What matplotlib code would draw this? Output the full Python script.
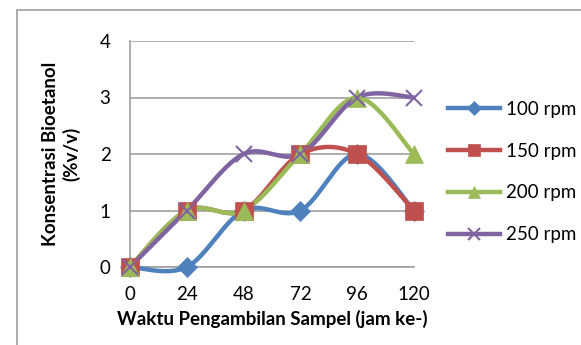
import numpy as np
import matplotlib.pyplot as plt
from matplotlib.lines import Line2D

plt.rcParams['font.family'] = ['Lato', 'DejaVu Sans']

jam = [0, 24, 48, 72, 96, 120]
rpm100 = [0, 0, 1, 1, 2, 1]
rpm150 = [0, 1, 1, 2, 2, 1]
rpm200 = [0, 1, 1, 2, 3, 2]
rpm250 = [0, 1, 2, 2, 3, 3]
labels = ['100 rpm', '150 rpm', '200 rpm', '250 rpm']


def smooth(x, y, n=40):
    # excel style bezier smoothing
    p = np.column_stack([x, y]).astype(float)
    p = np.vstack([p[0], p, p[-1]])
    t = np.linspace(0, 1, n)[:, None]
    out = []
    for i in range(1, len(p) - 2):
        p0, p1, p2, p3 = p[i - 1], p[i], p[i + 1], p[i + 2]
        b1 = p1 + (p2 - p0) / 6
        b2 = p2 - (p3 - p1) / 6
        seg = ((1 - t) ** 3) * p1 + 3 * ((1 - t) ** 2) * t * b1 + 3 * (1 - t) * t ** 2 * b2 + t ** 3 * p2
        out.append(seg)
    out = np.vstack(out)
    return out[:, 0], out[:, 1]


fig = plt.figure(figsize=(5.81, 3.45), dpi=100)
ax = fig.add_axes([130 / 581, 1 - 267 / 345, 284 / 581, 226 / 345])

# outer chart border
fig.add_artist(plt.Rectangle((17 / 581, -0.1), 1.2, 1 - 10 / 345 + 0.1, transform=fig.transFigure,
                             fill=False, edgecolor='#a0a0a0', linewidth=1.2))

series = [rpm100, rpm150, rpm200, rpm250]
colors = ['#4F81BD', '#C0504D', '#9BBB59', '#8064A2']
markers = ['D', 's', '^', 'x']
msizes = [10, 13, 13, 12]

for ys, c, m, ms in zip(series, colors, markers, msizes):
    sx, sy = smooth(jam, ys)
    ax.plot(sx, sy, color=c, linewidth=3.2, solid_capstyle='round', clip_on=False, zorder=3)
    ax.plot(jam, ys, linestyle='none', marker=m, color=c, markersize=ms,
            markeredgewidth=1.5 if m == 'x' else 0.5, clip_on=False, zorder=4)

ax.set_xlim(0, 120)
ax.set_ylim(0, 4)
ax.set_xticks(jam)
ax.set_yticks([0, 1, 2, 3, 4])
ax.tick_params(length=0, labelsize=13.5, pad=14)
ax.tick_params(axis='y', pad=14)
ax.grid(axis='y', color='#a0a0a0', linewidth=1.2)
ax.set_axisbelow(True)
for s in ['top', 'right']:
    ax.spines[s].set_visible(False)
for s in ['left', 'bottom']:
    ax.spines[s].set_color('#a0a0a0')
    ax.spines[s].set_linewidth(1.2)

ax.set_xlabel('Waktu Pengambilan Sampel (jam ke-)', fontsize=13.5, fontweight='bold', labelpad=5)
ax.set_ylabel('Konsentrasi Bioetanol\n(%v/v)', fontsize=13.5, fontweight='bold', labelpad=14)

handles = [Line2D([0], [0], color=c, linewidth=3.2, marker=m, markersize=ms * 0.7,
                  markeredgewidth=1.5 if m == 'x' else 0.5)
           for c, m, ms in zip(colors, markers, msizes)]
ax.legend(handles, labels, loc='center left', bbox_to_anchor=(1.06, 0.42), frameon=False,
          fontsize=13.5, handlelength=2.8, handletextpad=0.3, labelspacing=1.32)

fig.savefig('out.png', dpi=100)
